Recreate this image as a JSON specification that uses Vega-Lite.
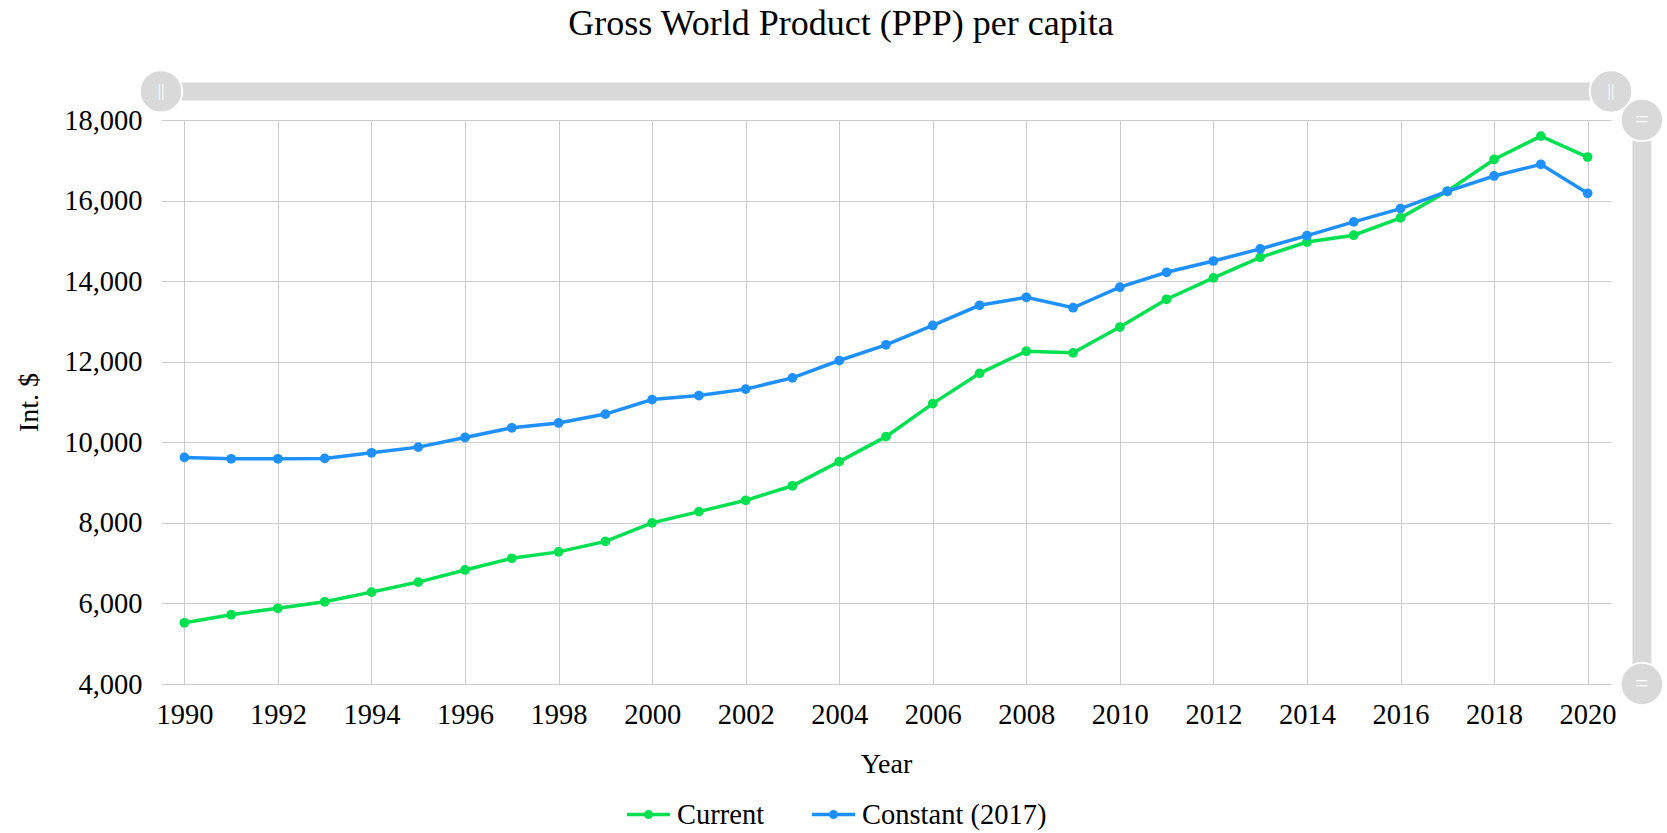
{
  "$schema": "https://vega.github.io/schema/vega-lite/v6.json",
  "width": 1450,
  "height": 564,
  "autosize": "none",
  "padding": {"left": 161, "top": 120, "right": 56, "bottom": 149},
  "background": "white",
  "config": {"font": "Liberation Serif", "view": {"stroke": null}},
  "title": {"text": "Gross World Product (PPP) per capita", "fontSize": 36, "fontWeight": "normal", "color": "#000", "anchor": "middle", "dx": -45, "offset": 23},
  "datasets": {
    "gwp": [
      {"year": 1990, "series": "Current", "value": 5520},
      {"year": 1991, "series": "Current", "value": 5720},
      {"year": 1992, "series": "Current", "value": 5880},
      {"year": 1993, "series": "Current", "value": 6040},
      {"year": 1994, "series": "Current", "value": 6280},
      {"year": 1995, "series": "Current", "value": 6530},
      {"year": 1996, "series": "Current", "value": 6830},
      {"year": 1997, "series": "Current", "value": 7120},
      {"year": 1998, "series": "Current", "value": 7280},
      {"year": 1999, "series": "Current", "value": 7540},
      {"year": 2000, "series": "Current", "value": 8000},
      {"year": 2001, "series": "Current", "value": 8280},
      {"year": 2002, "series": "Current", "value": 8560},
      {"year": 2003, "series": "Current", "value": 8920},
      {"year": 2004, "series": "Current", "value": 9520},
      {"year": 2005, "series": "Current", "value": 10140},
      {"year": 2006, "series": "Current", "value": 10960},
      {"year": 2007, "series": "Current", "value": 11710},
      {"year": 2008, "series": "Current", "value": 12260},
      {"year": 2009, "series": "Current", "value": 12220},
      {"year": 2010, "series": "Current", "value": 12860},
      {"year": 2011, "series": "Current", "value": 13550},
      {"year": 2012, "series": "Current", "value": 14080},
      {"year": 2013, "series": "Current", "value": 14590},
      {"year": 2014, "series": "Current", "value": 14970},
      {"year": 2015, "series": "Current", "value": 15140},
      {"year": 2016, "series": "Current", "value": 15570},
      {"year": 2017, "series": "Current", "value": 16230},
      {"year": 2018, "series": "Current", "value": 17020},
      {"year": 2019, "series": "Current", "value": 17600},
      {"year": 2020, "series": "Current", "value": 17080},
      {"year": 1990, "series": "Constant (2017)", "value": 9625},
      {"year": 1991, "series": "Constant (2017)", "value": 9590},
      {"year": 1992, "series": "Constant (2017)", "value": 9590},
      {"year": 1993, "series": "Constant (2017)", "value": 9600},
      {"year": 1994, "series": "Constant (2017)", "value": 9740},
      {"year": 1995, "series": "Constant (2017)", "value": 9880},
      {"year": 1996, "series": "Constant (2017)", "value": 10120},
      {"year": 1997, "series": "Constant (2017)", "value": 10360},
      {"year": 1998, "series": "Constant (2017)", "value": 10480},
      {"year": 1999, "series": "Constant (2017)", "value": 10700},
      {"year": 2000, "series": "Constant (2017)", "value": 11060},
      {"year": 2001, "series": "Constant (2017)", "value": 11160},
      {"year": 2002, "series": "Constant (2017)", "value": 11320},
      {"year": 2003, "series": "Constant (2017)", "value": 11600},
      {"year": 2004, "series": "Constant (2017)", "value": 12030},
      {"year": 2005, "series": "Constant (2017)", "value": 12420},
      {"year": 2006, "series": "Constant (2017)", "value": 12900},
      {"year": 2007, "series": "Constant (2017)", "value": 13400},
      {"year": 2008, "series": "Constant (2017)", "value": 13600},
      {"year": 2009, "series": "Constant (2017)", "value": 13340},
      {"year": 2010, "series": "Constant (2017)", "value": 13850},
      {"year": 2011, "series": "Constant (2017)", "value": 14220},
      {"year": 2012, "series": "Constant (2017)", "value": 14500},
      {"year": 2013, "series": "Constant (2017)", "value": 14800},
      {"year": 2014, "series": "Constant (2017)", "value": 15130},
      {"year": 2015, "series": "Constant (2017)", "value": 15470},
      {"year": 2016, "series": "Constant (2017)", "value": 15800},
      {"year": 2017, "series": "Constant (2017)", "value": 16230},
      {"year": 2018, "series": "Constant (2017)", "value": 16610},
      {"year": 2019, "series": "Constant (2017)", "value": 16900},
      {"year": 2020, "series": "Constant (2017)", "value": 16180}
    ]
  },
  "layer": [
    {
      "data": {"name": "gwp"},
      "mark": {"type": "line", "strokeWidth": 3.5, "interpolate": "linear", "point": {"filled": true, "size": 95, "opacity": 1}},
      "encoding": {
        "x": {
          "field": "year", "type": "quantitative",
          "scale": {"domain": [1989.5, 2020.5], "nice": false, "zero": false},
          "axis": {
            "title": "Year", "titleFontSize": 28, "titleFontWeight": "normal", "titleColor": "#000", "titleFont": "Liberation Serif", "titlePadding": 22,
            "values": [1990, 1992, 1994, 1996, 1998, 2000, 2002, 2004, 2006, 2008, 2010, 2012, 2014, 2016, 2018, 2020],
            "format": "d", "labelFontSize": 28.5, "labelColor": "#000", "labelFont": "Liberation Serif", "labelPadding": 16,
            "labelFlush": false, "labelOverlap": false,
            "grid": true, "gridColor": "#cccccc", "gridWidth": 1,
            "domain": false, "ticks": false, "tickSize": 0
          }
        },
        "y": {
          "field": "value", "type": "quantitative",
          "scale": {"domain": [4000, 18000], "nice": false, "zero": false},
          "axis": {
            "title": "Int. $", "titleFontSize": 28, "titleFontWeight": "normal", "titleColor": "#000", "titleFont": "Liberation Serif", "titlePadding": 20,
            "values": [4000, 6000, 8000, 10000, 12000, 14000, 16000, 18000],
            "format": ",", "labelExpr": "format(datum.value, ',')", "labelFontSize": 28.5, "labelColor": "#000", "labelFont": "Liberation Serif", "labelPadding": 19,
            "labelFlush": false, "labelOverlap": false,
            "grid": true, "gridColor": "#cccccc", "gridWidth": 1,
            "domain": false, "ticks": false, "tickSize": 0
          }
        },
        "color": {
          "field": "series", "type": "nominal",
          "scale": {"domain": ["Current", "Constant (2017)"], "range": ["#00e050", "#1e90ff"]},
          "legend": {
            "orient": "none", "legendX": 464, "legendY": 671, "direction": "horizontal", "title": null,
            "symbolType": "M-1,0L1,0 M0.13,0A0.13,0.13 0 1 1 -0.13,0A0.13,0.13 0 1 1 0.13,0Z",
            "symbolSize": 1849, "symbolStrokeWidth": 3.5, "symbolOpacity": 1,
            "labelFontSize": 28.5, "labelFont": "Liberation Serif", "labelColor": "#000", "labelOffset": 5,
            "columnPadding": 40, "padding": 0, "labelLimit": 0
          }
        }
      }
    },
    {
      "data": {"values": [{}]},
      "mark": {"type": "rule", "strokeWidth": 19, "color": "#d9d9d9", "strokeCap": "butt"},
      "encoding": {
        "x": {"datum": 2021.16, "type": "quantitative"},
        "y": {"datum": 4000, "type": "quantitative"},
        "y2": {"datum": 18000}
      }
    },
    {
      "data": {"values": [{}]},
      "mark": {"type": "point", "filled": true, "size": 1800, "color": "#d9d9d9", "stroke": "white", "strokeWidth": 2, "opacity": 1},
      "encoding": {
        "x": {"datum": 2021.16, "type": "quantitative"},
        "y": {"datum": 4000, "type": "quantitative"}
      }
    },
    {
      "data": {"values": [{}]},
      "mark": {"type": "point", "filled": true, "size": 1800, "color": "#d9d9d9", "stroke": "white", "strokeWidth": 2, "opacity": 1},
      "encoding": {
        "x": {"datum": 2021.16, "type": "quantitative"},
        "y": {"datum": 18000, "type": "quantitative"}
      }
    },
    {
      "data": {"values": [{}]},
      "mark": {"type": "text", "text": "=", "fontSize": 24, "color": "white", "align": "center", "baseline": "middle", "font": "Liberation Serif"},
      "encoding": {
        "x": {"datum": 2021.16, "type": "quantitative"},
        "y": {"datum": 4000, "type": "quantitative"}
      }
    },
    {
      "data": {"values": [{}]},
      "mark": {"type": "text", "text": "=", "fontSize": 24, "color": "white", "align": "center", "baseline": "middle", "font": "Liberation Serif"},
      "encoding": {
        "x": {"datum": 2021.16, "type": "quantitative"},
        "y": {"datum": 18000, "type": "quantitative"}
      }
    },
    {
      "data": {"values": [{}]},
      "mark": {"type": "rule", "strokeWidth": 18, "color": "#d9d9d9", "strokeCap": "butt"},
      "encoding": {
        "x": {"datum": 1989.5, "type": "quantitative"},
        "x2": {"datum": 2020.5},
        "y": {"datum": 18710, "type": "quantitative"}
      }
    },
    {
      "data": {"values": [{}]},
      "mark": {"type": "point", "filled": true, "size": 1800, "color": "#d9d9d9", "stroke": "white", "strokeWidth": 2, "opacity": 1},
      "encoding": {
        "x": {"datum": 1989.5, "type": "quantitative"},
        "y": {"datum": 18710, "type": "quantitative"}
      }
    },
    {
      "data": {"values": [{}]},
      "mark": {"type": "point", "filled": true, "size": 1800, "color": "#d9d9d9", "stroke": "white", "strokeWidth": 2, "opacity": 1},
      "encoding": {
        "x": {"datum": 2020.5, "type": "quantitative"},
        "y": {"datum": 18710, "type": "quantitative"}
      }
    },
    {
      "data": {"values": [{}]},
      "mark": {"type": "text", "text": "||", "fontSize": 17, "color": "white", "align": "center", "baseline": "middle", "font": "Liberation Serif"},
      "encoding": {
        "x": {"datum": 1989.5, "type": "quantitative"},
        "y": {"datum": 18710, "type": "quantitative"}
      }
    },
    {
      "data": {"values": [{}]},
      "mark": {"type": "text", "text": "||", "fontSize": 17, "color": "white", "align": "center", "baseline": "middle", "font": "Liberation Serif"},
      "encoding": {
        "x": {"datum": 2020.5, "type": "quantitative"},
        "y": {"datum": 18710, "type": "quantitative"}
      }
    }
  ]
}
